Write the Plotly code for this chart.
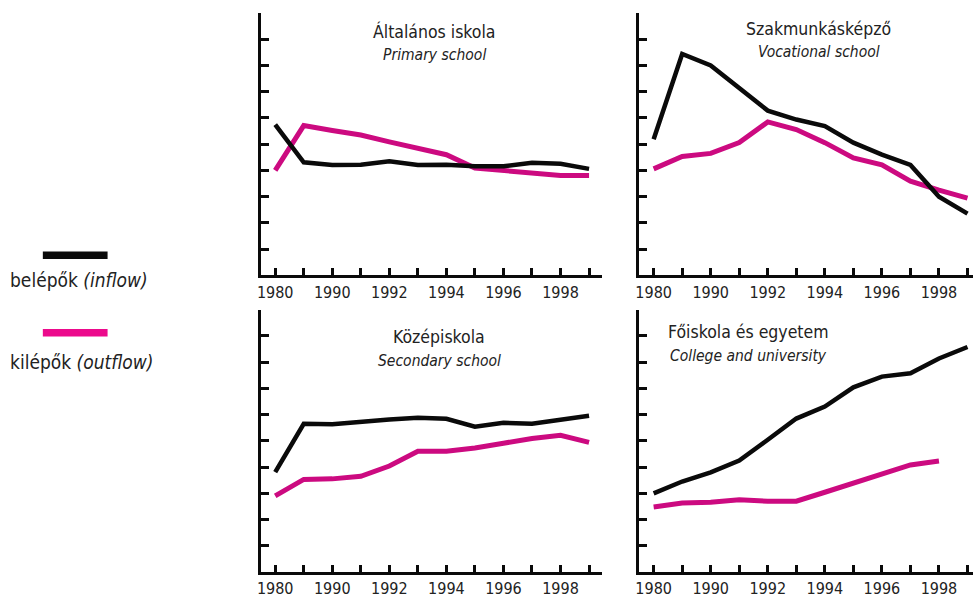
import plotly.graph_objects as go

W, H = 973, 598

years = ["1980", "1989", "1990", "1991", "1992", "1993", "1994", "1995", "1996", "1997", "1998", "1999"]
tick_labels = ["1980", "", "1990", "", "1992", "", "1994", "", "1996", "", "1998", ""]

primary_in = [5.75, 4.31, 4.21, 4.22, 4.35, 4.21, 4.22, 4.16, 4.16, 4.29, 4.25, 4.06]
primary_out = [4.0, 5.71, 5.52, 5.35, 5.09, 4.84, 4.6, 4.09, 4.0, 3.91, 3.81, 3.81]
vocational_in = [5.19, 8.44, 8.0, 7.13, 6.28, 5.94, 5.69, 5.06, 4.6, 4.21, 3.0, 2.35]
vocational_out = [4.06, 4.53, 4.65, 5.06, 5.85, 5.56, 5.06, 4.48, 4.21, 3.59, 3.25, 2.94]
secondary_in = [3.81, 5.65, 5.63, 5.73, 5.81, 5.88, 5.84, 5.54, 5.69, 5.65, 5.81, 5.96]
secondary_out = [2.9, 3.53, 3.55, 3.65, 4.04, 4.6, 4.6, 4.73, 4.91, 5.09, 5.21, 4.94]
college_in = [3.0, 3.45, 3.8, 4.25, 5.04, 5.85, 6.31, 7.04, 7.45, 7.58, 8.14, 8.58]
college_out = [2.48, 2.63, 2.66, 2.75, 2.7, 2.7, 3.04, 3.38, 3.73, 4.08, 4.23, None]

titles_hu = ["Általános iskola", "Szakmunkásképző", "Középiskola", "Főiskola és egyetem"]
titles_en = ["Primary school", "Vocational school", "Secondary school", "College and university"]
legend_labels = [("belépők", "(inflow)"), ("kilépők", "(outflow)")]

BLACK = "#0a0a0a"
PINK = "#cc0a80"
LEGEND_PINK = "#ec0a8c"
TEXT = "#222222"
FONT = "Liberation Sans Narrow, DejaVu Sans Condensed, Roboto, sans-serif"

def px(x):
    return x / W

def py(y):
    return 1 - y / H

idx = list(range(len(years)))

fig = go.Figure()

panels = [
    (primary_in, primary_out, "x", "y"),
    (vocational_in, vocational_out, "x2", "y2"),
    (secondary_in, secondary_out, "x3", "y3"),
    (college_in, college_out, "x4", "y4"),
]
for inflow, outflow, xa, ya in panels:
    fig.add_trace(go.Scatter(x=idx, y=outflow, mode="lines", xaxis=xa, yaxis=ya,
                             line=dict(color=PINK, width=5), showlegend=False, hoverinfo="skip"))
    fig.add_trace(go.Scatter(x=idx, y=inflow, mode="lines", xaxis=xa, yaxis=ya,
                             line=dict(color=BLACK, width=4.5), showlegend=False, hoverinfo="skip"))

xdom_left = [px(258), px(600)]
xdom_right = [px(638), 1.0]
ydom_top = [py(280), py(13.3)]
ydom_bot = [py(581.7), py(315)]
step = 28.65

def xaxis(dom, width_px, anchor):
    return dict(domain=dom, range=[-0.5, -0.5 + width_px / step], anchor=anchor,
                tickmode="array", tickvals=idx, ticktext=tick_labels,
                ticks="inside", ticklen=7, tickwidth=2.5, tickcolor=BLACK,
                showline=True, linewidth=3, linecolor=BLACK, showgrid=False, zeroline=False,
                tickfont=dict(family=FONT, size=16, color=TEXT), fixedrange=True)

def yaxis(dom, anchor):
    return dict(domain=dom, range=[0, 10], anchor=anchor,
                tickmode="array", tickvals=list(range(1, 11)), showticklabels=False,
                ticks="inside", ticklen=8, tickwidth=2.5, tickcolor=BLACK,
                showline=True, linewidth=3, linecolor=BLACK, showgrid=False, zeroline=False,
                fixedrange=True)

fig.update_layout(
    width=W, height=H, margin=dict(l=0, r=0, t=0, b=0),
    paper_bgcolor="white", plot_bgcolor="white",
    xaxis=xaxis(xdom_left, 342, "y"), yaxis=yaxis(ydom_top, "x"),
    xaxis2=xaxis(xdom_right, 335, "y2"), yaxis2=yaxis(ydom_top, "x2"),
    xaxis3=xaxis(xdom_left, 342, "y3"), yaxis3=yaxis(ydom_bot, "x3"),
    xaxis4=xaxis(xdom_right, 335, "y4"), yaxis4=yaxis(ydom_bot, "x4"),
)

title_pos = [(432, 32, 56), (818, 30, 53), (437, 343, 367), (748, 338, 362)]
anns = []
for (cx, y1, y2), hu, en in zip(title_pos, titles_hu, titles_en):
    anns.append(dict(x=px(cx), y=py(y1), xref="paper", yref="paper", text=hu, showarrow=False,
                     xanchor="center", yanchor="middle", font=dict(family=FONT, size=17.5, color=TEXT)))
    anns.append(dict(x=px(cx), y=py(y2), xref="paper", yref="paper", text="<i>" + en + "</i>", showarrow=False,
                     xanchor="center", yanchor="middle", font=dict(family=FONT, size=15.5, color=TEXT)))

legend_y = [(259.5, 285), (338.3, 368)]
legend_colors = [BLACK, LEGEND_PINK]
shapes = []
for (ly, ty), (hu, en), col in zip(legend_y, legend_labels, legend_colors):
    shapes.append(dict(type="line", xref="paper", yref="paper", x0=px(39), x1=px(104), y0=py(ly), y1=py(ly),
                       line=dict(color=col, width=7.5)))
    anns.append(dict(x=px(4), y=py(ty), xref="paper", yref="paper", text=hu + " <i>" + en + "</i>",
                     showarrow=False, xanchor="left", yanchor="middle",
                     font=dict(family=FONT, size=19, color=TEXT)))

fig.update_layout(annotations=anns, shapes=shapes)

post = """
var s=document.createElement('style');
s.textContent='html,body{margin:0;padding:0;overflow:hidden;width:973px;height:598px;}';
document.head.appendChild(s);
"""
fig.write_html("out.html", config={"displayModeBar": False}, post_script=post)
